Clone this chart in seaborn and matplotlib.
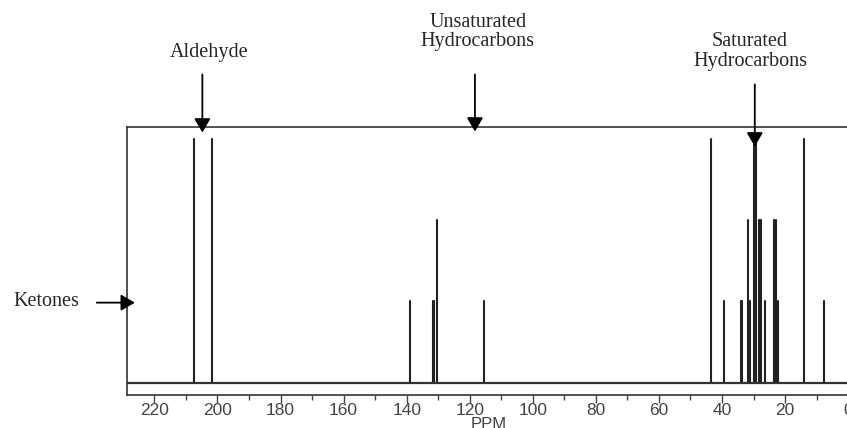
import pandas as pd
import matplotlib.pyplot as plt
import numpy as np
import seaborn as sns

# Picos del espectro (ppm) y su altura relativa
tall_ppm = [207.5, 201.9, 43.5, 29.9, 29.6, 29.3, 14.1]
medium_ppm = [130.4, 31.9, 28.4, 27.8, 27.6, 23.5, 22.8]
short_ppm = [138.8, 131.8, 131.3, 115.4, 39.3, 33.9, 33.6, 31.4, 31.1, 26.3, 22.2, 7.6]
tall_h, medium_h, short_h = 3, 2, 1

tick_values = [220, 200, 180, 160, 140, 120, 100, 80, 60, 40, 20, 0]

# Tabla larga: dos puntos por pico (base y cima)
rows = []
pid = 0
for lst, h in [(tall_ppm, tall_h), (medium_ppm, medium_h), (short_ppm, short_h)]:
    for p in lst:
        rows.append({"ppm": p, "int": 0, "peak": pid})
        rows.append({"ppm": p, "int": h, "peak": pid})
        pid += 1
df = pd.DataFrame(rows)

sns.set_theme(style="white")
plt.rcParams["font.family"] = ["Liberation Sans", "DejaVu Sans"]

fig = plt.figure(figsize=(8.47, 4.28), dpi=100)
ax = fig.add_axes([127 / 847, 33 / 428, 723 / 847, 268 / 428])

sns.lineplot(data=df, x="ppm", y="int", units="peak", estimator=None,
             sort=False, color="#222222", lw=1.5, ax=ax, legend=False)
ax.axhline(0, color="#333333", lw=1.6)

ax.set_xlim(228.7, -0.6)
ax.set_ylim(-0.152, 3.147)
ax.set_xticks(tick_values)
ax.set_xticks(np.arange(210, 0, -20), minor=True)
ax.set_xticklabels([str(t) for t in tick_values])
ax.set_yticks([])
ax.tick_params(axis="x", which="major", direction="out", length=6, width=1,
               color="#444444", labelcolor="#444444", labelsize=12.5, pad=0, bottom=True)
ax.tick_params(axis="x", which="minor", direction="out", length=3.5, width=1,
               color="#444444", bottom=True)
ax.set_xlabel("PPM", fontsize=12, color="#444444", labelpad=-1)
ax.set_ylabel("")
for s in ax.spines.values():
    s.set_color("#333333")
    s.set_linewidth(1.2)

serif = ["Liberation Serif", "DejaVu Serif"]
arrow = dict(arrowstyle="-|>,head_length=0.6,head_width=0.35", color="black",
             lw=1.3, mutation_scale=14, shrinkA=0, shrinkB=0)

# Aldehyde
ax.annotate("", xy=(204.8, 3.079), xytext=(204.8, 3.794), arrowprops=arrow,
            annotation_clip=False)
ax.text(202.7, 4.065, "Aldehyde", family=serif, fontsize=14.5, ha="center",
        va="center", clip_on=False)

# Unsaturated
ax.annotate("", xy=(118.35, 3.091), xytext=(118.35, 3.794), arrowprops=arrow,
            annotation_clip=False)
ax.text(117.4, 4.318, "Unsaturated\nHydrocarbons", family=serif, fontsize=14.5,
        ha="center", va="center", linespacing=1.05, clip_on=False)

# Saturated
ax.annotate("", xy=(29.6, 2.907), xytext=(29.6, 3.671), arrowprops=arrow,
            annotation_clip=False)
ax.text(31.1, 4.078, "Saturated\nHydrocarbons", family=serif, fontsize=14.5,
        ha="center", va="center", linespacing=1.05, clip_on=False)

# Ketones
ax.annotate("", xy=(226.2, 0.985), xytext=(238.3, 0.985), arrowprops=arrow,
            annotation_clip=False)
ax.text(254.3, 1.0, "Ketones", family=serif, fontsize=14.5, ha="center",
        va="center", clip_on=False)

fig.savefig("out.png", dpi=100)
